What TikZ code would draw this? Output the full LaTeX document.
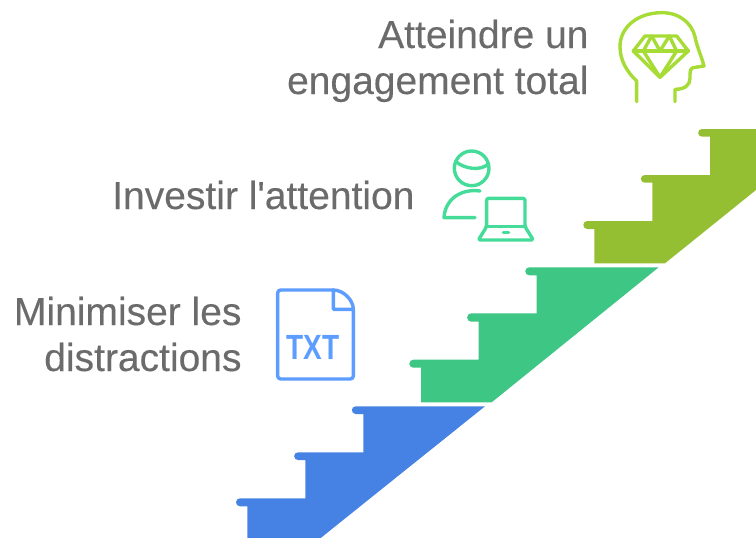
\documentclass[tikz,border=0pt]{standalone}
\usepackage{fontspec}
\newfontfamily\lblfont[FakeBold=0.25]{Liberation Sans}
\newfontfamily\txtfont{Liberation Sans Bold}
\definecolor{lab}{HTML}{6B6B6B}
\definecolor{cblue}{HTML}{4682E4}
\definecolor{cgreen}{HTML}{3EC684}
\definecolor{colive}{HTML}{95BF32}
\definecolor{iblue}{HTML}{5C9DFF}
\definecolor{igreen}{HTML}{45DB98}
\definecolor{iolive}{HTML}{A6DC35}
\tikzset{
  lbl/.style={inner sep=0pt,outer sep=0pt,text=lab,align=right,anchor=base east,font=\lblfont\fontsize{39}{46}\selectfont},
  icon/.style={line width=3.4pt,line cap=round,line join=round},
}
\begin{document}
\begin{tikzpicture}[x=1pt,y=-1pt]
\useasboundingbox (0,0) rectangle (756,538);
% stairs
\fill[colive] (594.3,263.3) -- (594.3,229) -- (587.3,229) arc[start angle=90,end angle=270,radius=4] -- (652.3,221) -- (652.3,182.7) -- (644.7,182.7) arc[start angle=90,end angle=270,radius=3.85] -- (710,175) -- (710,136.7) -- (702,136.7) arc[start angle=90,end angle=270,radius=3.85] -- (756,129) -- (756,190) -- (665,263.3) -- cycle;
\fill[cgreen] (421,402.3) -- (421,367.7) -- (413.3,367.7) arc[start angle=90,end angle=270,radius=4] -- (478.7,359.7) -- (478.7,321.7) -- (471.3,321.7) arc[start angle=90,end angle=270,radius=4.2] -- (536.7,313.3) -- (536.7,275.3) -- (529.3,275.3) arc[start angle=90,end angle=270,radius=4] -- (658.7,267.3) -- (491.7,402.3) -- cycle;
\fill[cblue] (247.3,538) -- (247.3,506.3) -- (240,506.3) arc[start angle=90,end angle=270,radius=4] -- (305.3,498.3) -- (305.3,460) -- (298,460) arc[start angle=90,end angle=270,radius=3.85] -- (363.3,452.3) -- (363.3,414) -- (355.7,414) arc[start angle=90,end angle=270,radius=3.85] -- (485,406.3) -- (320.7,538) -- cycle;
% labels
\node[lbl] (t3) at (588.5,94) {Atteindre un\\engagement total};
\node[lbl] (t2) at (414.5,209) {Investir l'attention};
\node[lbl] (t1) at (241.5,371) {Minimiser les\\distractions};
% head icon
\begin{scope}[shift={(580,0)},x=0.3333pt,y=-0.3333pt]
\draw[iolive,icon] (170,305) -- (170,243) .. controls (140,215) and (120,180) .. (120,140) .. controls (120,80) and (175,38) .. (245,38) .. controls (300,38) and (335,70) .. (345,110) .. controls (352,145) and (365,170) .. (372,198) -- (340,203) .. controls (330,205) and (330,215) .. (330,235) .. controls (330,255) and (315,268) .. (285,268) -- (285,305);
\draw[iolive,icon] (195,108) -- (290,108) -- (325,153) -- (240,232) -- (160,153) -- cycle;
\draw[iolive,icon] (160,153) -- (325,153);
\draw[iolive,icon] (215,108) -- (190,153) -- (240,232) -- (290,153) -- (268,108);
\draw[iolive,icon] (215,108) -- (240,153) -- (268,108);
\end{scope}
% person icon
\begin{scope}[shift={(430,140)},x=0.3333pt,y=-0.3333pt]
\draw[igreen,icon] (125,85) circle[radius=52];
\draw[igreen,icon] (78,65) .. controls (100,85) and (150,95) .. (175,72);
\draw[igreen,icon] (150,153) .. controls (90,145) and (45,180) .. (42,233) -- (135,233);
\draw[igreen,icon,rounded corners=2pt] (145,300) -- (170,260) -- (170,175) -- (285,175) -- (285,260) -- (310,300) -- cycle;
\draw[igreen,icon] (170,260) -- (285,260);
\draw[igreen,icon] (220,277) -- (236,277);
\end{scope}
% file icon
\begin{scope}[shift={(265,280)},x=0.3333pt,y=-0.3333pt]
\draw[iblue,icon,rounded corners=3pt] (205,30) -- (38,30) -- (38,297) -- (265,297) -- (265,88);
\draw[iblue,icon] (205,30) .. controls (235,30) and (265,60) .. (265,88) -- (205,88) -- cycle;
\node[inner sep=0pt,text=iblue,font=\txtfont\fontsize{35}{35}\selectfont,xscale=.8,anchor=base] (txt) at (145,240) {TXT};
\end{scope}
\end{tikzpicture}
\end{document}
